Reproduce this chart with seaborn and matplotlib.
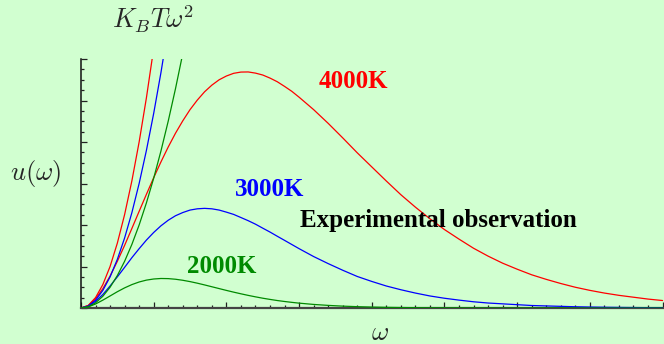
import matplotlib
matplotlib.use("Agg")
import matplotlib.pyplot as plt
from matplotlib.ticker import MultipleLocator
import pandas as pd
import seaborn as sns

# omega in units of one major x tick, u in units of one major y tick
omega = [0.0, 0.1, 0.2, 0.3, 0.4, 0.5, 0.6, 0.7, 0.8, 0.9,
         1.0, 1.1, 1.2, 1.3, 1.4, 1.5, 1.6, 1.7, 1.8, 1.9,
         2.0, 2.1, 2.2, 2.3, 2.4, 2.5, 2.6, 2.7, 2.8, 2.9, 3.0,
         3.2, 3.4, 3.6, 3.8, 4.0, 4.2, 4.4, 4.6, 4.8, 5.0,
         5.2, 5.4, 5.6, 5.8, 6.0, 6.2, 6.4, 6.6, 6.8, 7.0,
         7.2, 7.4, 7.6, 7.8, 8.0]
u_4000 = [0.0, 0.059, 0.22, 0.464, 0.77, 1.126, 1.51, 1.917, 2.33, 2.74,
          3.14, 3.521, 3.88, 4.212, 4.51, 4.78, 5.01, 5.21, 5.37, 5.499,
          5.59, 5.655, 5.685, 5.688, 5.66, 5.614, 5.54, 5.452, 5.34, 5.221, 5.08,
          4.78, 4.45, 4.10, 3.74, 3.40, 3.06, 2.73, 2.43, 2.15, 1.89,
          1.66, 1.44, 1.25, 1.08, 0.935, 0.80, 0.69, 0.59, 0.50, 0.425,
          0.36, 0.305, 0.26, 0.215, 0.18]
u_3000 = [0.0, 0.043, 0.16, 0.325, 0.53, 0.751, 0.98, 1.213, 1.43, 1.637,
          1.82, 1.981, 2.115, 2.223, 2.30, 2.36, 2.39, 2.401, 2.39, 2.36,
          2.31, 2.255, 2.18, 2.104, 2.02, 1.924, 1.83, 1.729, 1.63, 1.53, 1.43,
          1.24, 1.07, 0.91, 0.76, 0.64, 0.53, 0.44, 0.36, 0.29, 0.235,
          0.19, 0.15, 0.12, 0.10, 0.08, 0.06, 0.05, 0.04, 0.03, 0.023,
          0.018, 0.014, 0.011, 0.008, 0.006]
u_2000 = [0.0, 0.0275, 0.096, 0.189, 0.29, 0.3925, 0.485, 0.564, 0.627, 0.672,
          0.699, 0.711, 0.708, 0.693, 0.668, 0.636, 0.598, 0.556, 0.512, 0.468,
          0.424, 0.382, 0.342, 0.304, 0.269, 0.236, 0.207, 0.18, 0.157, 0.136, 0.117,
          0.086, 0.063, 0.045, 0.032, 0.023, 0.016, 0.011, 0.008, 0.005, 0.004,
          0.0025, 0.0017, 0.001, 0.0, 0.0, 0.0, 0.0, 0.0, 0.0, 0.0,
          0.0, 0.0, 0.0, 0.0, 0.0]

# classical K_B T w^2 curves (run off the top of the axes)
rj_omega = [0.0, 0.1, 0.2, 0.3, 0.4, 0.5, 0.6, 0.7, 0.8, 0.9, 1.0, 1.1, 1.2, 1.3, 1.4]
rj_4000 = [0.0, 0.063, 0.25, 0.563, 1.0, 1.564, 2.252, 3.065, 4.003, 5.067, 6.255]
rj_3000 = [0.0, 0.047, 0.188, 0.422, 0.75, 1.173, 1.688, 2.298, 3.002, 3.799, 4.69, 5.675, 6.754]
rj_2000 = [0.0, 0.031, 0.125, 0.282, 0.5, 0.782, 1.126, 1.533, 2.002, 2.534, 3.128,
           3.785, 4.504, 5.286, 6.131]

temps = ["4000K", "3000K", "2000K"]
colors = {"4000K": "#ff0000", "3000K": "#0000ff", "2000K": "#008a00"}

bg = "#d1ffd0"
W, H = 664, 344

sns.set_style("ticks")
plt.rcParams["mathtext.fontset"] = "cm"
plt.rcParams["font.family"] = ["Liberation Serif", "DejaVu Serif"]

fig = plt.figure(figsize=(W / 100, H / 100), dpi=100, facecolor=bg)
ax = fig.add_axes([81 / W, 36 / H, (W - 81) / W, 249 / H])
ax.set_facecolor(bg)

planck = pd.DataFrame({"omega": omega, "4000K": u_4000, "3000K": u_3000, "2000K": u_2000})
rj = {"4000K": rj_4000, "3000K": rj_3000, "2000K": rj_2000}

for t in temps:
    sns.lineplot(x=planck["omega"], y=planck[t], color=colors[t], lw=0.9,
                 ax=ax, zorder=3, sort=False)
    sns.lineplot(x=rj_omega[:len(rj[t])], y=rj[t], color=colors[t], lw=0.9,
                 ax=ax, zorder=3, sort=False)

ax.set_xlim(0, 8.02)
ax.set_ylim(0, 6.0)
ax.set_xlabel("")
ax.set_ylabel("")
ax.xaxis.set_major_locator(MultipleLocator(1))
ax.xaxis.set_minor_locator(MultipleLocator(0.2))
ax.yaxis.set_major_locator(MultipleLocator(1))
ax.yaxis.set_minor_locator(MultipleLocator(0.25))
ax.tick_params(which="both", direction="in", labelleft=False, labelbottom=False,
               color="#222222", width=0.9)
ax.tick_params(which="major", length=4.5)
ax.tick_params(which="minor", length=2.5)

for side in ["top", "right"]:
    ax.spines[side].set_visible(False)
ax.spines["left"].set_color("#111111")
ax.spines["left"].set_linewidth(1.1)
ax.spines["bottom"].set_color("#444444")
ax.spines["bottom"].set_linewidth(1.6)

def px(x, y):
    return x / W, 1 - y / H

lab = dict(fontsize=18, fontweight="bold", ha="center", va="baseline")
fig.text(*px(353, 88), "4000K", color=colors["4000K"], **lab)
fig.text(*px(270, 196), "3000K", color=colors["3000K"], **lab)
fig.text(*px(222, 273), "2000K", color=colors["2000K"], **lab)
fig.text(*px(438, 227), "Experimental observation", color="black", **lab)

fig.text(*px(112, 29), r"$K_BT\omega^2$", fontsize=19, ha="left", va="baseline")
fig.text(*px(10, 180), r"$u(\omega)$", fontsize=19, ha="left", va="baseline")
fig.text(*px(380, 340), r"$\omega$", fontsize=19, ha="center", va="baseline")

fig.savefig("out.png", dpi=100, facecolor=bg)
